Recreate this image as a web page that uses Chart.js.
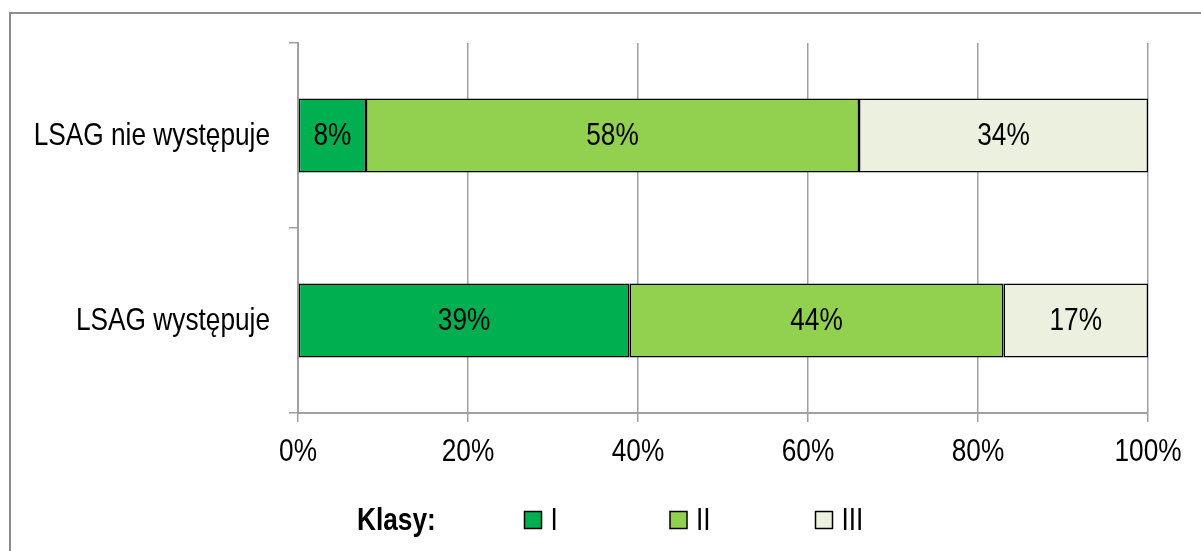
<!DOCTYPE html>
<html lang="pl">
<head>
<meta charset="utf-8">
<title>Klasy LSAG</title>
<script src="https://cdn.jsdelivr.net/npm/chart.js@4/dist/chart.umd.min.js"></script>
<style>
  body { margin: 0; background: #fff; }
  #wrap { position: relative; width: 1201px; height: 551px; overflow: hidden; }
  #frame { position: absolute; left: 9px; top: 12px; width: 1300px; height: 700px; border: 2px solid #8c8c8c; }
  #chart { position: absolute; left: 0; top: 0; }
</style>
</head>
<body>
<div id="wrap">
  <div id="frame"></div>
  <canvas id="chart" width="1201" height="551"></canvas>
</div>
<script>
const FONT = "'Liberation Sans', Arial, sans-serif";
const NARROW = 0.82; // squeeze the sans face horizontally to get a narrow look

const categories = ["LSAG nie występuje", "LSAG występuje"];
const classLabels = ["I", "II", "III"];
const classI = [8, 39];
const classII = [58, 44];
const classIII = [34, 17];
const classColors = ["#00B050", "#92D050", "#EBF1DE"];
const xTicks = [0, 20, 40, 60, 80, 100];
const legendTitle = "Klasy:";

const series = [classI, classII, classIII];

function narrowText(ctx, text, x, y, align, font) {
  ctx.save();
  ctx.font = font;
  ctx.fillStyle = "#000";
  ctx.textAlign = align;
  ctx.textBaseline = "middle";
  ctx.translate(x, y);
  ctx.scale(NARROW, 1);
  ctx.fillText(text, 0, 0);
  ctx.restore();
}

// axis labels drawn by hand so they can use the narrow face
const axisLabels = {
  id: "axisLabels",
  afterDraw(chart) {
    const ctx = chart.ctx;
    const xs = chart.scales.x;
    const ys = chart.scales.y;
    categories.forEach((name, i) => {
      narrowText(ctx, name, ys.right - 28, ys.getPixelForValue(i) + 1, "right", "32px " + FONT);
    });
    xTicks.forEach(v => {
      narrowText(ctx, v + "%", xs.getPixelForValue(v), xs.top + 39, "center", "32px " + FONT);
    });
  }
};

// percentage written in the middle of every segment
const segmentLabels = {
  id: "segmentLabels",
  afterDatasetsDraw(chart) {
    chart.data.datasets.forEach((ds, i) => {
      chart.getDatasetMeta(i).data.forEach((bar, j) => {
        narrowText(chart.ctx, ds.data[j] + "%", (bar.x + bar.base) / 2, bar.y + 1, "center", "32px " + FONT);
      });
    });
  }
};

// legend row under the axis: bold title, then square + name per class
const classLegend = {
  id: "classLegend",
  afterDraw(chart) {
    const ctx = chart.ctx;
    const area = chart.chartArea;
    const y = 520;
    narrowText(ctx, legendTitle, area.left + 59, y + 1, "left", "bold 32px " + FONT);
    chart.data.datasets.forEach((ds, i) => {
      const bx = area.left + 226.5 + i * 145.5;
      ctx.save();
      ctx.fillStyle = ds.backgroundColor;
      ctx.fillRect(bx, y - 8.5, 17, 17);
      ctx.strokeStyle = "#000";
      ctx.lineWidth = 1.5;
      ctx.strokeRect(bx, y - 8.5, 17, 17);
      ctx.restore();
      narrowText(ctx, ds.label, bx + 26, y + 1, "left", "32px " + FONT);
    });
  }
};

new Chart(document.getElementById("chart"), {
  type: "bar",
  data: {
    labels: categories,
    datasets: series.map((values, i) => ({
      label: classLabels[i],
      data: values,
      backgroundColor: classColors[i],
      borderColor: "#000",
      borderWidth: 1.5,
      borderSkipped: false,
      categoryPercentage: 1,
      barPercentage: 0.4
    }))
  },
  options: {
    indexAxis: "y",
    responsive: false,
    animation: false,
    layout: { padding: { top: 43, right: 53, left: 0, bottom: 0 } },
    plugins: {
      legend: { display: false },
      tooltip: { enabled: false }
    },
    scales: {
      x: {
        stacked: true,
        min: 0,
        max: 100,
        afterBuildTicks(scale) { scale.ticks = xTicks.map(v => ({ value: v })); },
        afterFit(scale) { scale.height = 551 - 413; },
        ticks: { display: false },
        grid: { color: "#a0a0a0", lineWidth: 1.5, tickLength: 9 },
        border: { color: "#a0a0a0", width: 2 }
      },
      y: {
        stacked: true,
        afterFit(scale) { scale.width = 298; },
        ticks: { display: false },
        grid: { offset: true, drawOnChartArea: false, color: "#a0a0a0", lineWidth: 1.5, tickLength: 9 },
        border: { color: "#a0a0a0", width: 2 }
      }
    }
  },
  plugins: [segmentLabels, axisLabels, classLegend]
});
</script>
</body>
</html>
